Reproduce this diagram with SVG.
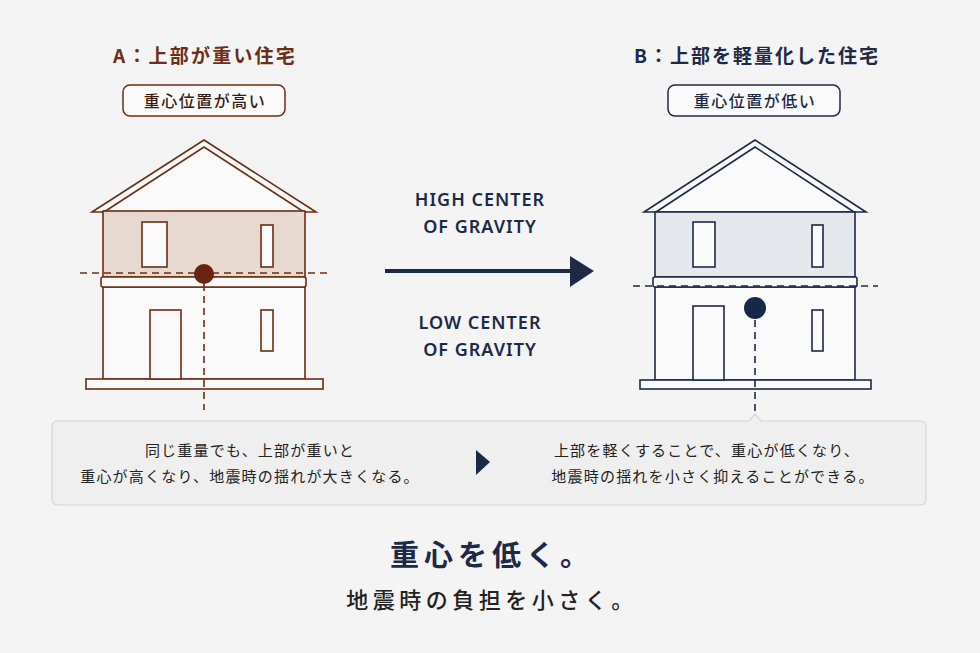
<svg xmlns="http://www.w3.org/2000/svg" width="980" height="653" viewBox="0 0 980 653">
<style>
.jp{font-family:"Noto Sans CJK JP","Noto Sans",sans-serif}
.en{font-family:"Noto Sans","Liberation Sans",sans-serif;font-weight:600}
.b{stroke:#6b2e16;fill:none;stroke-width:1.6}
.n{stroke:#1c2a48;fill:none;stroke-width:1.6}
.bw{stroke:#6b2e16;fill:#fafafa;stroke-width:1.6}
.nw{stroke:#1c2a48;fill:#fafafa;stroke-width:1.6}
.dash{stroke-dasharray:7 5;stroke-width:1.6;fill:none}
</style>
<rect width="980" height="653" fill="#f4f4f4"/>
<g id="houseA">
<text x="205" y="63" class="jp" font-size="19" font-weight="700" fill="#6b2e16" text-anchor="middle" letter-spacing="2.2">A：上部が重い住宅</text>
<rect x="123" y="85" width="162" height="31" rx="7" fill="#fafafa" stroke="#6b2e16" stroke-width="1.5"/>
<text x="205" y="107" class="jp" font-size="16" font-weight="500" fill="#3a1a10" text-anchor="middle" letter-spacing="1.5">重心位置が高い</text>
<polygon points="92,212 204,140 316,212" class="bw"/>
<polyline points="104,212 204,147 304,212" class="b" stroke-width="1"/>
<rect x="103" y="211" width="202" height="66" fill="#e8d9cf" stroke="#6b2e16" stroke-width="1.6"/>
<rect x="103" y="287" width="202" height="92" class="bw"/>
<rect x="101" y="277" width="205" height="10" rx="2" class="bw"/>
<rect x="86" y="379" width="237" height="10" class="bw"/>
<rect x="142" y="222" width="25" height="45" class="bw"/>
<rect x="261" y="225" width="12" height="42" class="bw"/>
<rect x="150" y="310" width="31" height="69" class="bw"/>
<rect x="261" y="310" width="12" height="41" class="bw"/>
<line x1="80" y1="273" x2="327" y2="273" class="dash" stroke="#6b2e16"/>
<line x1="204" y1="284" x2="204" y2="410" class="dash" stroke="#6b2e16"/>
<circle cx="204" cy="274" r="10" fill="#6b2410"/>
</g>
<g id="houseB">
<text x="757" y="63" class="jp" font-size="19" font-weight="700" fill="#1c2a48" text-anchor="middle" letter-spacing="2">B：上部を軽量化した住宅</text>
<rect x="668" y="85" width="172" height="31" rx="7" fill="#fafafa" stroke="#1c2a48" stroke-width="1.5"/>
<text x="755" y="107" class="jp" font-size="16" font-weight="500" fill="#1c2a48" text-anchor="middle" letter-spacing="1.5">重心位置が低い</text>
<polygon points="644,212 755,140 866,212" class="nw"/>
<polyline points="656,212 755,147 854,212" class="n" stroke-width="1"/>
<rect x="655" y="212" width="200" height="65" fill="#e5e9ed" stroke="#1c2a48" stroke-width="1.6"/>
<rect x="655" y="287" width="200" height="93" class="nw"/>
<rect x="653" y="277" width="204" height="10" rx="2" class="nw"/>
<rect x="640" y="380" width="231" height="9" class="nw"/>
<rect x="693" y="222" width="22" height="45" class="nw"/>
<rect x="812" y="225" width="11" height="42" class="nw"/>
<rect x="693" y="306" width="31" height="74" class="nw"/>
<rect x="812" y="310" width="11" height="41" class="nw"/>
<line x1="633" y1="286" x2="878" y2="286" class="dash" stroke="#1c2a48"/>
<line x1="755" y1="320" x2="755" y2="418" class="dash" stroke="#1c2a48"/>
<circle cx="755" cy="308" r="11" fill="#15284a"/>
</g>
<g id="connectors">
<line x1="385" y1="271" x2="572" y2="271" stroke="#1c2a48" stroke-width="4"/>
<polygon points="570,256 594,271 570,287" fill="#1c2a48"/>
</g>
<g id="middleLabels" class="en" font-size="18" fill="#1c2a48" text-anchor="middle" letter-spacing="1">
<text x="480" y="206">HIGH CENTER</text>
<text x="480" y="233">OF GRAVITY</text>
<text x="480" y="329">LOW CENTER</text>
<text x="480" y="356">OF GRAVITY</text>
</g>
<g id="note">
<path d="M58,421 H749 L755,414 L761,421 H920 Q926,421 926,427 V499 Q926,505 920,505 H58 Q52,505 52,499 V427 Q52,421 58,421 Z" fill="#efefef" stroke="#d6d6d6" stroke-width="1.2"/>
<polygon points="476,450 490,462 476,475" fill="#1c2a48"/>
<g class="jp" font-size="15" fill="#222" text-anchor="middle" letter-spacing="1.2">
<text x="250" y="456">同じ重量でも、上部が重いと</text>
<text x="250" y="482">重心が高くなり、地震時の揺れが大きくなる。</text>
<text x="707" y="456">上部を軽くすることで、重心が低くなり、</text>
<text x="713" y="482">地震時の揺れを小さく抑えることができる。</text>
</g>
</g>
<g id="footer" class="jp" text-anchor="middle">
<text x="492" y="566" font-size="29" font-weight="700" fill="#1c2a48" letter-spacing="5">重心を低く。</text>
<text x="492" y="608" font-size="22" font-weight="500" fill="#222" letter-spacing="4.5">地震時の負担を小さく。</text>
</g>
</svg>
